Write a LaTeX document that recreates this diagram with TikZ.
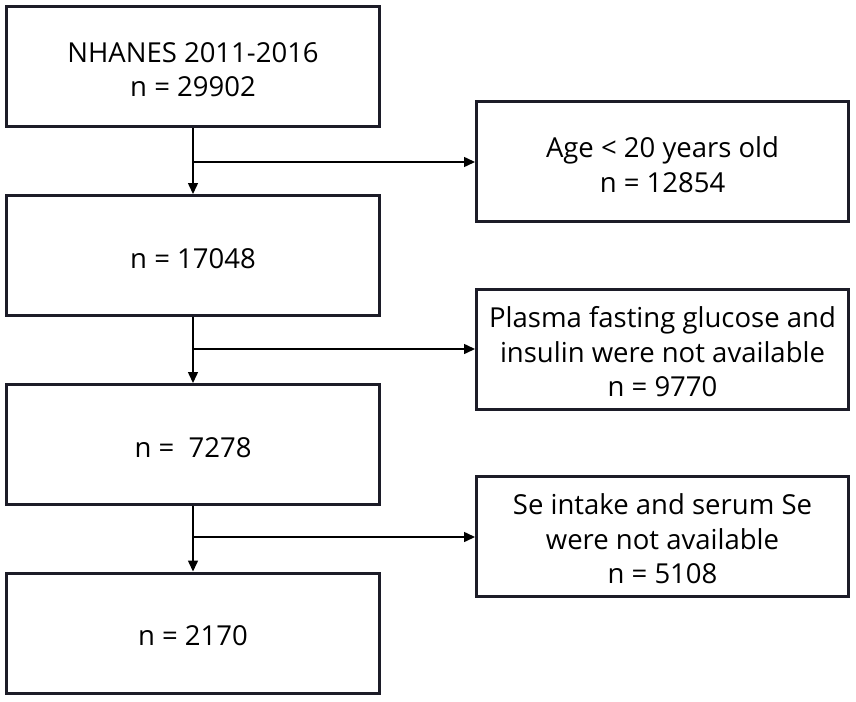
\documentclass[tikz,border=0pt]{standalone}
\usepackage{fontspec}
\setmainfont{Open Sans}
\usetikzlibrary{arrows.meta}
\definecolor{boxline}{RGB}{28,28,40}
\tikzset{
  box/.style={draw=boxline, line width=3pt, inner sep=0pt},
  mainbox/.style={box, minimum width=373pt, minimum height=120pt},
  sidebox/.style={box, minimum width=372pt, minimum height=120pt},
  txt/.style={align=center, inner sep=0pt, yshift=-3pt,
    font=\fontsize{27.5}{34.5}\selectfont, text=black},
  conn/.style={draw=black, line width=1.5pt, -{Triangle[length=11pt,width=10pt]}}
}
\begin{document}
\begin{tikzpicture}[x=1pt,y=-1pt]
\useasboundingbox (0,0) rectangle (856,701);
\node[mainbox] (b1) at (193,66.5) {};
\node[mainbox] (b2) at (193,255.5) {};
\node[mainbox] (b3) at (193,444.5) {};
\node[mainbox] (b4) at (193,633) {};
\node[sidebox] (r1) at (662.5,161.5) {};
\node[sidebox] (r2) at (662.5,349) {};
\node[sidebox] (r3) at (662.5,536) {};
\node[txt] (t1) at (b1.center) {NHANES 2011-2016\\n = 29902};
\node[txt] (t2) at (b2.center) {n = 17048};
\node[txt] (t3) at (b3.center) {n =\ \ 7278};
\node[txt] (t4) at (b4.center) {n = 2170};
\node[txt] (s1) at (r1.center) {Age < 20 years old\\n = 12854};
\node[txt] (s2) at (r2.center) {Plasma fasting glucose and\\insulin were not available\\n = 9770};
\node[txt] (s3) at (r3.center) {Se intake and serum Se\\were not available\\n = 5108};
\coordinate (j1) at (193,162);
\coordinate (j2) at (193,349);
\coordinate (j3) at (193,537);
\draw[conn] (b1.south) -- (b2.north);
\draw[conn] (b2.south) -- (b3.north);
\draw[conn] (b3.south) -- (b4.north);
\draw[conn] (j1) -- (j1 -| r1.west);
\draw[conn] (j2) -- (j2 -| r2.west);
\draw[conn] (j3) -- (j3 -| r3.west);
\end{tikzpicture}
\end{document}
